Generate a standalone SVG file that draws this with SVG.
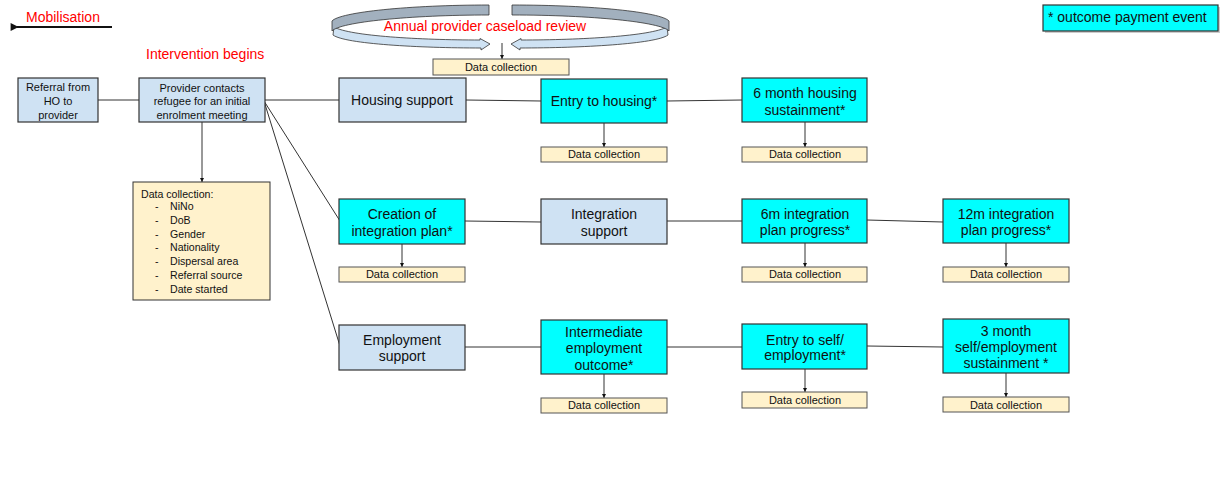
<svg xmlns="http://www.w3.org/2000/svg" width="1224" height="498" viewBox="0 0 1224 498">
<style>
text{font-family:"Liberation Sans",Arial,sans-serif;fill:#111}
.lb{fill:#cfe2f3;stroke:#333;stroke-width:1.2}
.cy{fill:#00ffff;stroke:#333;stroke-width:1.2}
.dc{fill:#fff2cc;stroke:#555;stroke-width:1}
.t14{font-size:14px;text-anchor:middle}
.t11{font-size:11px;text-anchor:middle}
.t10{font-size:11px;text-anchor:middle}
.red{fill:#ff0000;font-size:14px}
.ln{stroke:#333;stroke-width:1;fill:none}
.ar{stroke:#333;stroke-width:1;fill:none;marker-end:url(#ah)}
</style>
<defs>
<marker id="ah" viewBox="0 0 10 10" refX="10" refY="5" markerWidth="4" markerHeight="4" orient="auto" markerUnits="userSpaceOnUse"><path d="M0,0 L10,5 L0,10 Z" fill="#111"/></marker>
<marker id="big" viewBox="0 0 10 10" refX="2" refY="5" markerWidth="9" markerHeight="8" orient="auto" markerUnits="userSpaceOnUse"><path d="M10,0 L0,5 L10,10 Z" fill="#111"/></marker>
<g id="halfring">
<path d="M334,27 C350,36 420,40 480,40 L480,38.5 L490,44 L481,50 L481,48 C420,48 345,44 333,35 Z" fill="#cfe2f3" stroke="#333" stroke-width="0.8"/>
<path d="M489,5 C410,5 340,12 332,21 L332,31 C340,22 410,15 489,15 Z" fill="#a2b0be" stroke="#333" stroke-width="0.8"/>
</g>
</defs>

<g id="mobilisation">
<text x="26" y="22" class="red">Mobilisation</text>
<line x1="112" y1="27" x2="17" y2="27" stroke="#111" stroke-width="2" marker-end="url(#big)"/>
</g>
<g id="intervention-label"><text x="146" y="59" class="red">Intervention begins</text></g>

<g id="annual-review">
<use href="#halfring"/>
<use href="#halfring" transform="translate(1001,0) scale(-1,1)"/>
<text x="485" y="31" class="red" style="text-anchor:middle">Annual provider caseload review</text>
</g>

<g id="legend">
<rect x="1045" y="7" width="175" height="26" fill="#999" opacity="0.5"/>
<rect x="1043" y="5" width="175" height="26" class="cy"/>
<text x="1048" y="22" style="font-size:14px">* outcome payment event</text>
</g>

<g id="connectors">
<line x1="98" y1="100" x2="139" y2="100" class="ln"/>
<line x1="265" y1="100" x2="339" y2="100" class="ln"/>
<line x1="264" y1="101" x2="340" y2="221" class="ln"/>
<line x1="264" y1="101" x2="340" y2="346" class="ln"/>
<line x1="466" y1="100" x2="541" y2="101" class="ln"/>
<line x1="667" y1="101" x2="742" y2="100" class="ln"/>
<line x1="465" y1="221" x2="541" y2="222" class="ln"/>
<line x1="667" y1="221" x2="742" y2="221" class="ln"/>
<line x1="867" y1="220" x2="943" y2="222" class="ln"/>
<line x1="465" y1="347" x2="541" y2="347" class="ln"/>
<line x1="667" y1="347" x2="742" y2="347" class="ln"/>
<line x1="867" y1="346" x2="943" y2="347" class="ln"/>
<line x1="202" y1="122" x2="202" y2="182" class="ar"/>
<line x1="502" y1="43" x2="502" y2="59" class="ar"/>
<line x1="604" y1="123" x2="604" y2="147" class="ar"/>
<line x1="805" y1="122" x2="805" y2="147" class="ar"/>
<line x1="402" y1="244" x2="402" y2="267" class="ar"/>
<line x1="805" y1="243" x2="805" y2="267" class="ar"/>
<line x1="1006" y1="243" x2="1006" y2="267" class="ar"/>
<line x1="604" y1="374" x2="604" y2="398" class="ar"/>
<line x1="805" y1="369" x2="805" y2="392" class="ar"/>
<line x1="1006" y1="373" x2="1006" y2="397" class="ar"/>
</g>

<g id="referral">
<rect x="18" y="78" width="80" height="44" class="lb"/>
<text class="t11" x="58" y="91">Referral from</text>
<text class="t11" x="58" y="105">HO to</text>
<text class="t11" x="58" y="119">provider</text>
</g>
<g id="provider-contacts">
<rect x="139" y="78" width="126" height="44" class="lb"/>
<text class="t11" x="202" y="92">Provider contacts</text>
<text class="t11" x="202" y="105">refugee for an initial</text>
<text class="t11" x="202" y="119">enrolment meeting</text>
</g>
<g id="data-list">
<rect x="133" y="182" width="137" height="118" class="dc" style="stroke:#333"/>
<g style="font-size:10.6px">
<text x="141" y="198">Data collection:</text>
<text x="155" y="210">-</text><text x="170" y="210">NiNo</text>
<text x="155" y="224">-</text><text x="170" y="224">DoB</text>
<text x="155" y="238">-</text><text x="170" y="238">Gender</text>
<text x="155" y="251">-</text><text x="170" y="251">Nationality</text>
<text x="155" y="265">-</text><text x="170" y="265">Dispersal area</text>
<text x="155" y="279">-</text><text x="170" y="279">Referral source</text>
<text x="155" y="293">-</text><text x="170" y="293">Date started</text>
</g>
</g>
<g id="dc-annual">
<rect x="433" y="59" width="136" height="16" class="dc"/>
<text class="t10" x="501" y="71">Data collection</text>
</g>

<g id="housing-support">
<rect x="339" y="78" width="127" height="44" class="lb"/>
<text class="t14" x="402" y="105">Housing support</text>
</g>
<g id="entry-housing">
<rect x="541" y="79" width="126" height="44" class="cy"/>
<text class="t14" x="604" y="106">Entry to housing*</text>
</g>
<g id="dc-entry-housing">
<rect x="541" y="147" width="126" height="15" class="dc"/>
<text class="t10" x="604" y="158">Data collection</text>
</g>
<g id="housing-6m">
<rect x="742" y="78" width="125" height="44" class="cy"/>
<text class="t14" x="805" y="98">6 month housing</text>
<text class="t14" x="805" y="115">sustainment*</text>
</g>
<g id="dc-housing-6m">
<rect x="742" y="147" width="125" height="15" class="dc"/>
<text class="t10" x="805" y="158">Data collection</text>
</g>

<g id="creation-plan">
<rect x="339" y="199" width="126" height="45" class="cy"/>
<text class="t14" x="402" y="219">Creation of</text>
<text class="t14" x="402" y="236">integration plan*</text>
</g>
<g id="dc-creation">
<rect x="339" y="267" width="126" height="15" class="dc"/>
<text class="t10" x="402" y="278">Data collection</text>
</g>
<g id="integration-support">
<rect x="541" y="199" width="126" height="45" class="lb"/>
<text class="t14" x="604" y="219">Integration</text>
<text class="t14" x="604" y="236">support</text>
</g>
<g id="integration-6m">
<rect x="742" y="199" width="125" height="44" class="cy"/>
<text class="t14" x="805" y="219">6m integration</text>
<text class="t14" x="805" y="235">plan progress*</text>
</g>
<g id="dc-integration-6m">
<rect x="742" y="267" width="125" height="15" class="dc"/>
<text class="t10" x="805" y="278">Data collection</text>
</g>
<g id="integration-12m">
<rect x="943" y="199" width="126" height="44" class="cy"/>
<text class="t14" x="1006" y="219">12m integration</text>
<text class="t14" x="1006" y="235">plan progress*</text>
</g>
<g id="dc-integration-12m">
<rect x="943" y="267" width="126" height="15" class="dc"/>
<text class="t10" x="1006" y="278">Data collection</text>
</g>

<g id="employment-support">
<rect x="339" y="325" width="126" height="45" class="lb"/>
<text class="t14" x="402" y="345">Employment</text>
<text class="t14" x="402" y="361">support</text>
</g>
<g id="intermediate">
<rect x="541" y="320" width="126" height="54" class="cy"/>
<text class="t14" x="604" y="337">Intermediate</text>
<text class="t14" x="604" y="353">employment</text>
<text class="t14" x="604" y="370">outcome*</text>
</g>
<g id="dc-intermediate">
<rect x="541" y="398" width="126" height="15" class="dc"/>
<text class="t10" x="604" y="409">Data collection</text>
</g>
<g id="entry-self">
<rect x="742" y="324" width="125" height="45" class="cy"/>
<text class="t14" x="805" y="345">Entry to self/</text>
<text class="t14" x="805" y="360">employment*</text>
</g>
<g id="dc-entry-self">
<rect x="742" y="392" width="125" height="16" class="dc"/>
<text class="t10" x="805" y="404">Data collection</text>
</g>
<g id="self-3m">
<rect x="943" y="319" width="126" height="54" class="cy"/>
<text class="t14" x="1006" y="336">3 month</text>
<text class="t14" x="1006" y="352">self/employment</text>
<text class="t14" x="1006" y="368">sustainment *</text>
</g>
<g id="dc-self-3m">
<rect x="943" y="397" width="126" height="15" class="dc"/>
<text class="t10" x="1006" y="409">Data collection</text>
</g>
</svg>
